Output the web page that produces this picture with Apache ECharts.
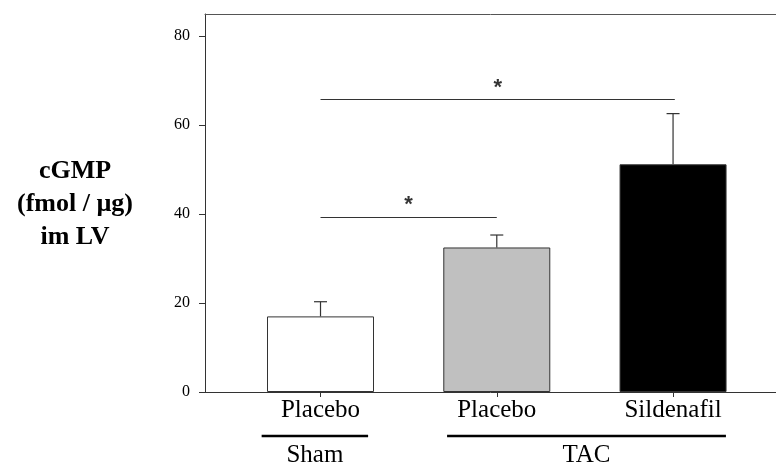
<!DOCTYPE html>
<html>
<head>
<meta charset="utf-8">
<script src="https://cdn.jsdelivr.net/npm/echarts@6/dist/echarts.min.js"></script>
<style>html,body{margin:0;padding:0;background:#fff;}#c{width:776px;height:468px;}</style>
</head>
<body>
<div id="c"></div>
<script>
// ---- data ----
var categories = ['Placebo', 'Placebo', 'Sildenafil'];
var positions = [1, 2, 3];
var means = [17.0, 32.5, 51.2];
var errors = [3.3, 2.8, 11.4];
var barColors = ['#ffffff', '#c0c0c0', '#000000'];
var yTicks = [0, 20, 40, 60, 80];
var sigBrackets = [ // [from, to, level]
  [1, 2, 39.4],
  [1, 3.01, 65.9]
];
var groups = [ // [label, from, to]
  ['Sham', 0.666, 1.27],
  ['TAC', 1.718, 3.30]
];
var yTitle = 'cGMP\n(fmol / µg)\nim LV';

var serif = '"Liberation Serif", "Times New Roman", serif';
var chart = echarts.init(document.getElementById('c'));

var barData = positions.map(function (p, i) {
  return { value: [p, means[i]], itemStyle: { color: barColors[i] } };
});
var errData = positions.map(function (p, i) { return [p, means[i], means[i] + errors[i]]; });

var markLines = sigBrackets.map(function (b) {
  return [{ coord: [b[0], b[2]] }, { coord: [b[1], b[2]] }];
});
var stars = sigBrackets.map(function (b) { return [(b[0] + b[1]) / 2, b[2]]; });

var xMin = 0.3447, xMax = 3.584;

chart.setOption({
  animation: false,
  grid: { left: 205, right: 0, top: 14, bottom: 76 },
  xAxis: [{
    type: 'value', min: xMin, max: xMax,
    splitLine: { show: false },
    axisLine: { show: true, lineStyle: { color: '#333', width: 1 } },
    axisTick: { show: true, customValues: positions, length: 5, inside: false, lineStyle: { color: '#333' } },
    axisLabel: {
      customValues: positions, margin: 6,
      formatter: function (v) { var i = positions.indexOf(v); return i >= 0 ? categories[i] : ''; },
      fontFamily: serif, fontSize: 25, color: '#000'
    }
  }, {
    type: 'value', position: 'top', min: xMin, max: xMax,
    splitLine: { show: false },
    axisLine: { show: true, lineStyle: { color: '#555', width: 1 } },
    axisTick: { show: false }, axisLabel: { show: false }
  }],
  yAxis: {
    type: 'value', min: 0, max: 85,
    splitLine: { show: false },
    axisLine: { show: true, lineStyle: { color: '#333', width: 1 } },
    axisTick: { show: true, customValues: yTicks, length: 6, lineStyle: { color: '#333' } },
    axisLabel: { customValues: yTicks, fontFamily: serif, fontSize: 16, color: '#000', margin: 15 }
  },
  series: [
    {
      type: 'bar', data: barData, barWidth: 107,
      itemStyle: { borderColor: '#333', borderWidth: 1 },
      markLine: {
        symbol: 'none', silent: true, label: { show: false },
        lineStyle: { color: '#333', width: 1.2, type: 'solid' },
        data: markLines
      },
      z: 2
    },
    {
      type: 'custom', z: 3,
      data: errData,
      renderItem: function (params, api) {
        var x = api.value(0);
        var lo = api.coord([x, api.value(1)]);
        var hi = api.coord([x, api.value(2)]);
        return {
          type: 'group', children: [
            { type: 'line', shape: { x1: lo[0], y1: lo[1], x2: hi[0], y2: hi[1] }, style: { stroke: '#333', lineWidth: 1.2 } },
            { type: 'line', shape: { x1: hi[0] - 6.5, y1: hi[1], x2: hi[0] + 6.5, y2: hi[1] }, style: { stroke: '#333', lineWidth: 1.2 } }
          ]
        };
      }
    },
    {
      type: 'scatter', data: stars, symbol: 'circle', symbolSize: 1, z: 4,
      itemStyle: { color: 'rgba(0,0,0,0)' },
      label: { show: true, position: 'top', distance: 0, formatter: '*', fontFamily: '"Liberation Sans", Arial, sans-serif', fontWeight: 'bold', fontSize: 22, color: '#000' }
    }
  ]
});

function drawGroups() {
  var els = [];
  var yLine = 436;
  groups.forEach(function (g) {
    var x1 = chart.convertToPixel({ xAxisIndex: 0 }, g[1]);
    var x2 = chart.convertToPixel({ xAxisIndex: 0 }, g[2]);
    els.push({ type: 'line', shape: { x1: x1, y1: yLine, x2: x2, y2: yLine }, style: { stroke: '#000', lineWidth: 2.5 } });
    els.push({ type: 'text', x: (x1 + x2) / 2, y: 443, style: { text: g[0], align: 'center', verticalAlign: 'top', font: '25px ' + serif, fill: '#000' } });
  });
  els.push({ type: 'text', x: 75, y: 155, style: { text: yTitle, align: 'center', verticalAlign: 'top', font: 'bold 26px ' + serif, lineHeight: 33, fill: '#000' } });
  chart.setOption({ graphic: els });
}
drawGroups();
</script>
</body>
</html>
